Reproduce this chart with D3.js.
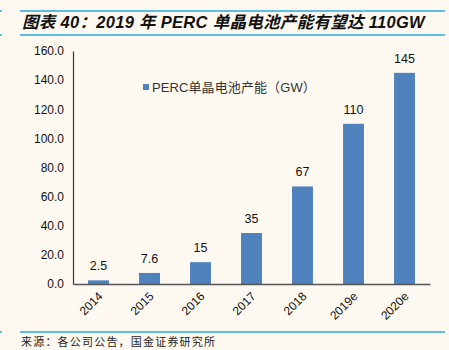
<!DOCTYPE html>
<html>
<head>
<meta charset="utf-8">
<script src="https://cdn.jsdelivr.net/npm/d3@7"></script>
<style>
  html, body { margin: 0; padding: 0; background: #FDF9F0; }
  svg { display: block; font-family: "Liberation Sans", Arial, "Noto Sans CJK SC", sans-serif; }
</style>
</head>
<body>
<svg></svg>
<script>
const W = 449, H = 350;

const years = ["2014", "2015", "2016", "2017", "2018", "2019e", "2020e"];
const capacity = [2.5, 7.6, 15, 35, 67, 110, 145];
const valueLabels = ["2.5", "7.6", "15", "35", "67", "110", "145"];
const yTicks = [0, 20, 40, 60, 80, 100, 120, 140, 160];

const title = "图表 40：2019 年 PERC 单晶电池产能有望达 110GW";
const legendLabel = "PERC单晶电池产能（GW）";
const source = "来源：各公司公告，国金证券研究所";

const blue = "#4F81BD";
const rule = "#2AA8E0";

const svg = d3.select("svg").attr("width", W).attr("height", H);

svg.append("rect").attr("width", W).attr("height", H).attr("fill", "#FDF9F0");

// header / footer rules
[11, 35, 332].forEach(y => {
  svg.append("line").attr("x1", 20).attr("x2", 445).attr("y1", y).attr("y2", y)
    .attr("stroke", rule).attr("stroke-width", 1.5);
  svg.append("line").attr("x1", 0).attr("x2", 2).attr("y1", y).attr("y2", y)
    .attr("stroke", rule).attr("stroke-width", 1.5);
});

svg.append("text")
  .attr("x", 22).attr("y", 28)
  .attr("font-size", 16.5).attr("font-weight", "bold").attr("font-style", "italic")
  .attr("letter-spacing", 0.3)
  .attr("fill", "#111")
  .text(title);

svg.append("text")
  .attr("x", 21).attr("y", 346)
  .attr("font-size", 11)
  .attr("letter-spacing", 1.2)
  .attr("font-family", "'Noto Sans CJK SC', sans-serif")
  .attr("fill", "#222")
  .text(source);

const x = d3.scaleBand().domain(years).range([73, 430]).paddingInner(0.59).paddingOuter(0.295);
const y = d3.scaleLinear().domain([0, 160]).range([284, 51]);

// y axis
const yAxis = svg.append("g").attr("transform", "translate(73,0)")
  .call(d3.axisLeft(y).tickValues(yTicks).tickSize(0).tickPadding(9).tickFormat(d3.format(".1f")));
yAxis.select(".domain").attr("stroke", "#333").attr("stroke-width", 1.2);
yAxis.selectAll("text").attr("font-size", 12).attr("fill", "#111")
  .attr("font-family", "'Liberation Sans', Arial, sans-serif");

// bars
svg.selectAll(".bar")
  .data(years)
  .enter()
  .append("rect")
  .attr("class", "bar")
  .attr("x", d => x(d))
  .attr("width", x.bandwidth())
  .attr("y", (d, i) => y(capacity[i]))
  .attr("height", (d, i) => y(0) - y(capacity[i]))
  .attr("fill", blue);

// x axis
const xAxis = svg.append("g").attr("transform", "translate(0,284)")
  .call(d3.axisBottom(x).tickSize(0).tickFormat(""));
xAxis.select(".domain").attr("stroke", "#555").attr("stroke-width", 1.5);

svg.selectAll(".xlab")
  .data(years)
  .enter()
  .append("text")
  .attr("class", "xlab")
  .attr("transform", d => `translate(${x(d) + x.bandwidth() / 2 + 5},${297}) rotate(-45)`)
  .attr("text-anchor", "end")
  .attr("font-size", 12)
  .attr("fill", "#111")
  .text(d => d);

// value labels
svg.selectAll(".vlab")
  .data(years)
  .enter()
  .append("text")
  .attr("class", "vlab")
  .attr("x", d => x(d) + x.bandwidth() / 2)
  .attr("y", (d, i) => y(capacity[i]) - 10)
  .attr("text-anchor", "middle")
  .attr("font-size", 12.5)
  .attr("fill", "#111")
  .text((d, i) => valueLabels[i]);

// legend
svg.append("rect").attr("x", 143).attr("y", 84).attr("width", 6).attr("height", 6).attr("fill", blue);
svg.append("text")
  .attr("x", 152).attr("y", 91.5)
  .attr("font-size", 13)
  .attr("fill", "#333")
  .attr("letter-spacing", 0.1)
  .text(legendLabel);
</script>
</body>
</html>
